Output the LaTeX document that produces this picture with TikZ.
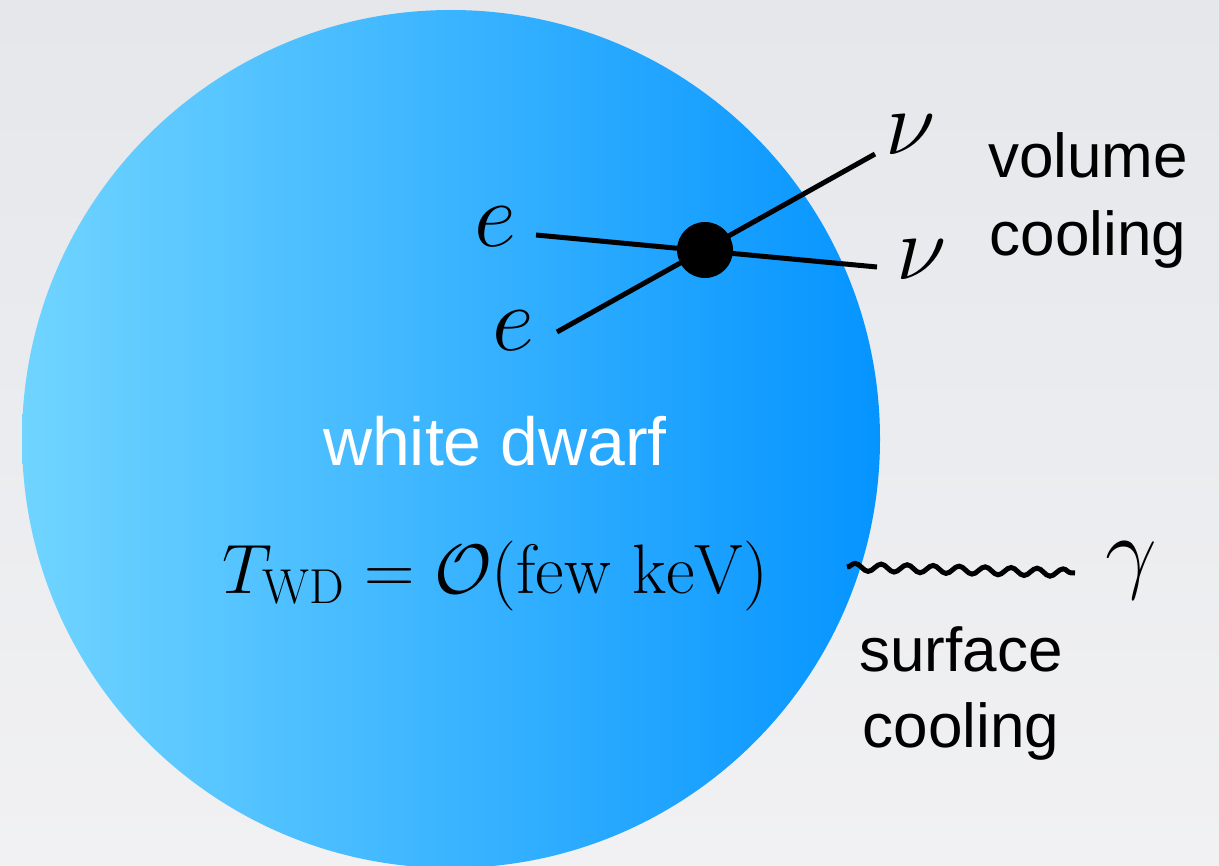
\RequirePackage{fix-cm}
\documentclass[tikz,border=0pt]{standalone}
\usepackage{fontspec}
\newfontfamily\labfont{Liberation Sans}
\usetikzlibrary{decorations.pathmorphing}
\definecolor{bgtop}{RGB}{229,231,235}
\definecolor{bgbot}{RGB}{241,241,243}
\definecolor{wdleft}{RGB}{112,212,255}
\definecolor{wdright}{RGB}{5,148,255}
\tikzset{
  lab/.style={font=\labfont\fontsize{31}{37}\selectfont, text=black, inner sep=0pt, anchor=base},
  particle/.style={font=\fontsize{46}{55}\selectfont, inner sep=0pt, anchor=center},
  leg/.style={line width=2.5pt, black},
  photon/.style={line width=2.5pt, black, decorate, decoration={snake, segment length=13pt, amplitude=1.9pt}},
}
\begin{document}
\begin{tikzpicture}[x=0.5pt,y=-0.5pt]
\useasboundingbox (0,0) rectangle (1219,866);
\shade[top color=bgtop, bottom color=bgbot] (0,0) rectangle (1219,866);
\begin{scope}
\clip (0,0) rectangle (1219,866);
\shade[left color=wdleft, right color=wdright] (451,439) circle[radius=214.5pt];
\end{scope}
% labels
\node[particle] (e1) at (495,227) {$e$};
\node[particle] (e2) at (513,331) {$e$};
\node[particle] (nu1) at (911,135) {$\nu$};
\node[particle] (nu2) at (922,260) {$\nu$};
\node[particle] (gam) at (1131,571) {$\gamma$};
% legs
\coordinate (a1) at (536,235);
\coordinate (b1) at (877,267);
\coordinate (a2) at (557,332);
\coordinate (b2) at (875,154);
\draw[leg] (a1) -- (b1);
\draw[leg] (a2) -- (b2);
\node[circle, fill=black, minimum size=28pt, inner sep=0pt] (vtx) at (705,250) {};
% photon
\coordinate (p1) at (847,567);
\coordinate (p2) at (1075,573);
\draw[photon] (p1) -- (p2);
% texts
\node[lab] (vol) at (1088,178) {volume};
\node[lab] (vcool) at (1088,256) {cooling};
\node[lab] (surf) at (961,671) {surface};
\node[lab] (scool) at (961,747) {cooling};
\node[lab, text=white, font=\labfont\fontsize{34}{40}\selectfont] (wd) at (495,465) {white dwarf};
\node[inner sep=0pt, anchor=base, font=\fontsize{35}{42}\selectfont] (temp) at (495,593) {$T_{\mathrm{WD}} = \mathcal{O}(\mathrm{few\ keV})$};
\end{tikzpicture}
\end{document}
